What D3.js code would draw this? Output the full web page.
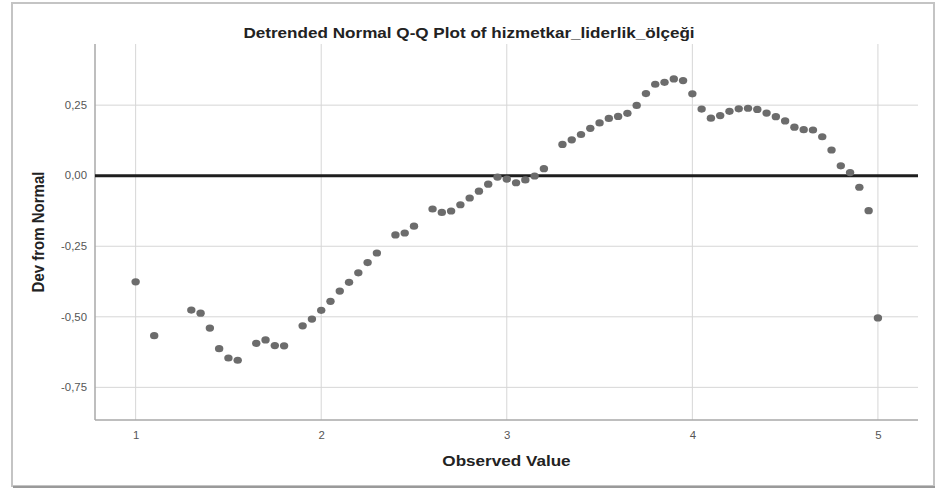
<!DOCTYPE html>
<html>
<head>
<meta charset="utf-8">
<script src="https://cdn.jsdelivr.net/npm/d3@7.9.0/dist/d3.min.js"></script>
<style>
  html, body { margin: 0; padding: 0; background: #fff; }
  svg { display: block; font-family: "Liberation Sans", Arial, sans-serif; }
</style>
</head>
<body>
<svg id="chart" width="936" height="490"></svg>
<script>
// ---------- Data ----------
const observedValues = [
  1.00, 1.10, 1.30, 1.35, 1.40, 1.45, 1.50, 1.55, 1.65, 1.70,
  1.75, 1.80, 1.90, 1.95, 2.00, 2.05, 2.10, 2.15, 2.20, 2.25,
  2.30, 2.40, 2.45, 2.50, 2.60, 2.65, 2.70, 2.75, 2.80, 2.85,
  2.90, 2.95, 3.00, 3.05, 3.10, 3.15, 3.20, 3.30, 3.35, 3.40,
  3.45, 3.50, 3.55, 3.60, 3.65, 3.70, 3.75, 3.80, 3.85, 3.90,
  3.95, 4.00, 4.05, 4.10, 4.15, 4.20, 4.25, 4.30, 4.35, 4.40,
  4.45, 4.50, 4.55, 4.60, 4.65, 4.70, 4.75, 4.80, 4.85, 4.90,
  4.95, 5.00
];
const devFromNormal = [
  -0.376, -0.567, -0.476, -0.487, -0.540, -0.613, -0.646, -0.654, -0.594, -0.582,
  -0.602, -0.603, -0.532, -0.508, -0.477, -0.445, -0.409, -0.378, -0.344, -0.308,
  -0.274, -0.210, -0.203, -0.179, -0.118, -0.130, -0.125, -0.103, -0.079, -0.055,
  -0.030, -0.005, -0.012, -0.025, -0.015, -0.001, 0.025, 0.111, 0.127, 0.146,
  0.168, 0.187, 0.203, 0.210, 0.221, 0.249, 0.291, 0.324, 0.331, 0.343,
  0.337, 0.290, 0.236, 0.204, 0.213, 0.228, 0.237, 0.239, 0.235, 0.222,
  0.209, 0.194, 0.172, 0.163, 0.162, 0.138, 0.091, 0.035, 0.011, -0.041,
  -0.124, -0.504
];
const xTicks = [1, 2, 3, 4, 5];
const yTicks = [-0.75, -0.5, -0.25, 0, 0.25];

const titleText = "Detrended Normal Q-Q Plot of hizmetkar_liderlik_ölçeği";

// ---------- Layout ----------
const plot = { left: 95, right: 918, top: 44, bottom: 420 };
const stretch = 1.14; // the picture's text is a little wider than the font
const svg = d3.select("#chart");

const x = d3.scaleLinear().domain([0.781, 5.216]).range([plot.left, plot.right]);
const y = d3.scaleLinear().domain([-0.8657, 0.4667]).range([plot.bottom, plot.top]);

const fmt = (v) => d3.format(".2f")(v).replace(".", ",").replace("−", "-");

// ---------- Frame ----------
svg.append("rect")
  .attr("x", 12).attr("y", 3)
  .attr("width", 922).attr("height", 483)
  .attr("fill", "#fff")
  .attr("stroke", "#c4c4c4")
  .attr("stroke-width", 2);
// shadow on the bottom edge
svg.append("line")
  .attr("x1", 13).attr("x2", 935)
  .attr("y1", 487).attr("y2", 487)
  .attr("stroke", "#9a9a9a").attr("stroke-width", 2);

// ---------- Grid ----------
const grid = svg.append("g");
grid.selectAll(".hgrid")
  .data(yTicks)
  .join("line")
  .attr("x1", plot.left).attr("x2", plot.right)
  .attr("y1", (d) => y(d)).attr("y2", (d) => y(d))
  .attr("stroke", "#d6d6d6").attr("stroke-width", 1);
grid.selectAll(".vgrid")
  .data(xTicks)
  .join("line")
  .attr("x1", (d) => x(d)).attr("x2", (d) => x(d))
  .attr("y1", plot.top).attr("y2", plot.bottom)
  .attr("stroke", "#d6d6d6").attr("stroke-width", 1);

// ---------- Axes ----------
const xAxis = d3.axisBottom(x).tickValues(xTicks).tickSize(0).tickPadding(12).tickFormat(d3.format("d"));
const yAxis = d3.axisLeft(y).tickValues(yTicks).tickSize(0).tickPadding(8).tickFormat(fmt);

const gx = svg.append("g").attr("transform", `translate(0,${plot.bottom})`).call(xAxis);
const gy = svg.append("g").attr("transform", `translate(${plot.left},0)`).call(yAxis);

[gx, gy].forEach((g) => {
  g.select(".domain").remove();
  g.selectAll("text")
    .attr("fill", "#555")
    .style("font-size", "10px")
    .style("font-family", "'Liberation Sans', Arial, sans-serif")
    .each(function () {
      // widen the label around its own anchor
      const t = d3.select(this);
      const tx = +t.attr("x") || 0;
      t.attr("x", 0).attr("transform", `translate(${tx},0) scale(${stretch},1)`);
    });
});

svg.append("line")
  .attr("x1", plot.left).attr("x2", plot.left)
  .attr("y1", plot.top).attr("y2", plot.bottom)
  .attr("stroke", "#a8a8a8").attr("stroke-width", 1.5);
svg.append("line")
  .attr("x1", plot.left).attr("x2", plot.right)
  .attr("y1", plot.bottom).attr("y2", plot.bottom)
  .attr("stroke", "#a8a8a8").attr("stroke-width", 1.5);

// ---------- Reference line at 0 ----------
svg.append("line")
  .attr("x1", plot.left).attr("x2", plot.right)
  .attr("y1", y(0)).attr("y2", y(0))
  .attr("stroke", "#1e1e1e").attr("stroke-width", 3);

// ---------- Points ----------
const points = observedValues.map((v, i) => ({ x: v, y: devFromNormal[i] }));
svg.append("g")
  .selectAll("ellipse")
  .data(points)
  .join("ellipse")
  .attr("cx", (d) => x(d.x))
  .attr("cy", (d) => y(d.y))
  .attr("rx", 4.2)
  .attr("ry", 3.6)
  .attr("fill", "#6c6c6c");

// ---------- Titles ----------
svg.append("text")
  .attr("transform", `translate(469,37.5) scale(${stretch},1)`)
  .attr("text-anchor", "middle")
  .style("font-size", "15px").style("font-weight", "bold")
  .attr("fill", "#222")
  .text(titleText);

svg.append("text")
  .attr("transform", `translate(${(plot.left + plot.right) / 2},466) scale(${stretch},1)`)
  .attr("text-anchor", "middle")
  .style("font-size", "15px").style("font-weight", "bold")
  .attr("fill", "#222")
  .text("Observed Value");

svg.append("text")
  .attr("transform", `translate(44,${(plot.top + plot.bottom) / 2}) scale(${stretch},1) rotate(-90)`)
  .attr("text-anchor", "middle")
  .style("font-size", "15px").style("font-weight", "bold")
  .attr("fill", "#222")
  .text("Dev from Normal");
</script>
</body>
</html>
